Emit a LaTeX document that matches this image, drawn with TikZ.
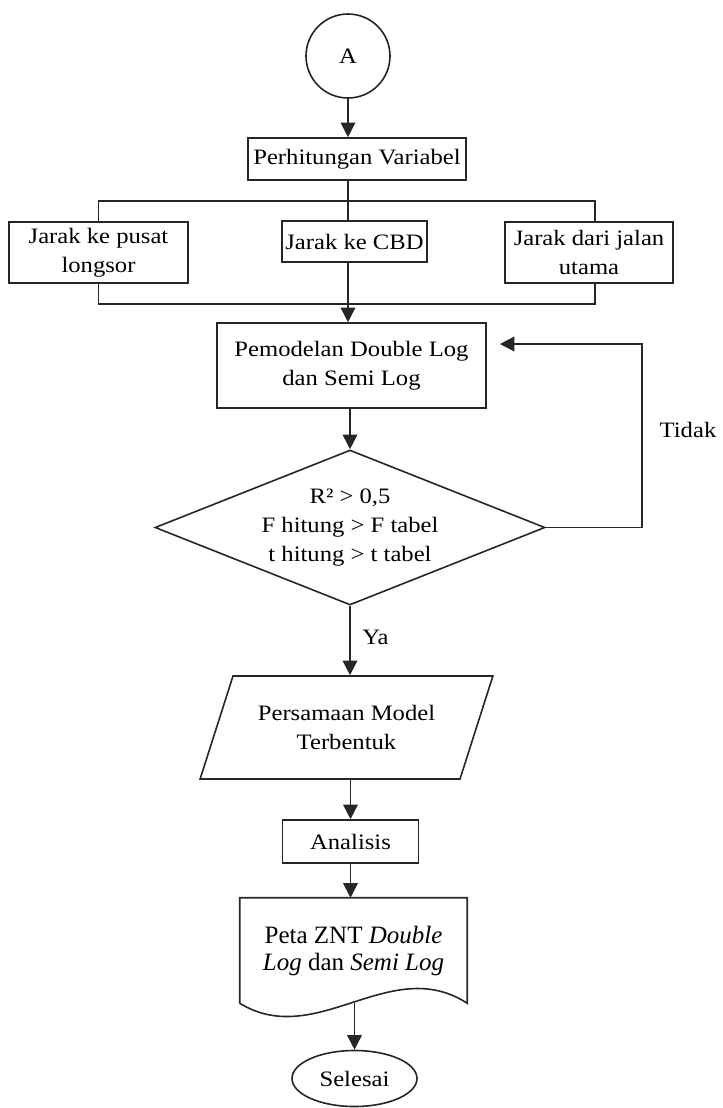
\documentclass[tikz,border=0pt]{standalone}
\usepackage{fontspec}
\setmainfont{Liberation Serif}[FakeStretch=1.12]
\newfontfamily\petafont{Liberation Serif}
\usepackage{tikz}
\usetikzlibrary{arrows.meta}
\usetikzlibrary{shapes.geometric}

\tikzset{
  flow/.style={draw=black!85, line width=1.2pt},
  flowarrow/.style={flow, -{Triangle[length=11pt,width=11pt]}},
  flowtext/.style={font=\fontsize{16.5}{21.75}\selectfont, align=center},
  procbox/.style={flow, flowtext, rectangle, inner sep=0pt},
  connector/.style={flow, flowtext, circle, inner sep=0pt, minimum size=63pt},
  decision/.style={flow, flowtext, diamond, inner sep=0pt, aspect=2.5},
  iobox/.style={flow, flowtext, trapezium, trapezium left angle=60,
    trapezium right angle=120, trapezium stretches=true, inner sep=0pt},
  terminal/.style={flow, flowtext, ellipse, inner sep=0pt}
}

\begin{document}
\begin{tikzpicture}[x=0.75pt, y=0.75pt]
\useasboundingbox (0,0) rectangle (723,-1108);

\node[connector] (A) at (348,-56) {A};
\node[procbox, minimum width=163.5pt, minimum height=31.5pt] (perh) at (357,-159) {Perhitungan Variabel};

\node[procbox, minimum width=134.25pt, minimum height=45.75pt] (jp) at (98.5,-252.5) {Jarak ke pusat\\longsor};
\node[procbox, minimum width=108.75pt, minimum height=30.75pt] (jc) at (354.5,-241.5) {Jarak ke CBD};
\node[procbox, minimum width=126pt, minimum height=45.75pt] (jj) at (589,-252.5) {Jarak dari jalan\\utama};

\node[procbox, minimum width=201.75pt, minimum height=63.75pt] (pemo) at (351.5,-365.5) {Pemodelan Double Log\\dan Semi Log};
\node[decision, minimum width=292.5pt, minimum height=116.25pt] (dec) at (350,-527.5) {R² > 0,5\\F hitung > F tabel\\t hitung > t tabel};
\node[iobox, minimum width=219.75pt, minimum height=77.25pt] (para) at (346.5,-727.5) {Persamaan Model\\Terbentuk};
\node[procbox, minimum width=102pt, minimum height=32.25pt] (anal) at (350.5,-841.5) {Analisis};
\node[align=center, inner sep=0pt, minimum width=170.25pt, minimum height=78.75pt,
      font=\petafont\fontsize{18.75}{20.25}\selectfont] (doc) at (353.5,-950.5)
      {Peta ZNT \textit{Double}\\\textit{Log} dan \textit{Semi Log}};
\node[terminal, minimum width=93.75pt, minimum height=42pt] (sel) at (354.5,-1078.5) {Selesai};

\node[flowtext, anchor=west, inner sep=0pt] (ya) at (362,-637) {Ya};
\node[flowtext, inner sep=0pt] (tidak) at (688,-430) {Tidak};

% document shape
\draw[flow] (doc.south west) -- (doc.north west) -- (doc.north east) -- (doc.south east)
  .. controls +(-77,50) and +(77,-47) .. (doc.south west);

% branches
\coordinate (splitL) at (98.5,-201);
\coordinate (splitR) at (595,-201);
\coordinate (mergeL) at (98.5,-304);
\coordinate (mergeR) at (595,-304);
\coordinate (loop) at (642,-344);

\draw[flowarrow] (A.south) -- (A.south |- perh.north);
\draw[flow] (A.south |- perh.south) -- (A.south |- jc.north);
\draw[flow] (splitL |- jp.north) -- (splitL) -- (splitR) -- (splitR |- jj.north);
\draw[flow] (splitL |- jp.south) -- (mergeL) -- (mergeR) -- (splitR |- jj.south);
\draw[flowarrow] (A.south |- jc.south) -- (A.south |- pemo.north);
\draw[flowarrow] (dec.north |- pemo.south) -- (dec.north);
\draw[flowarrow] (dec.south) -- (dec.south |- para.north);
\draw[flowarrow, shorten >=9.75pt] (dec.east) -| (loop) -- (loop -| pemo.east);
\draw[flowarrow] (anal.north |- para.south) -- (anal.north);
\draw[flowarrow] (anal.south) -- (anal.south |- doc.north);
\draw[flowarrow] (sel.north |- doc.south) -- (sel.north);
\end{tikzpicture}
\end{document}
